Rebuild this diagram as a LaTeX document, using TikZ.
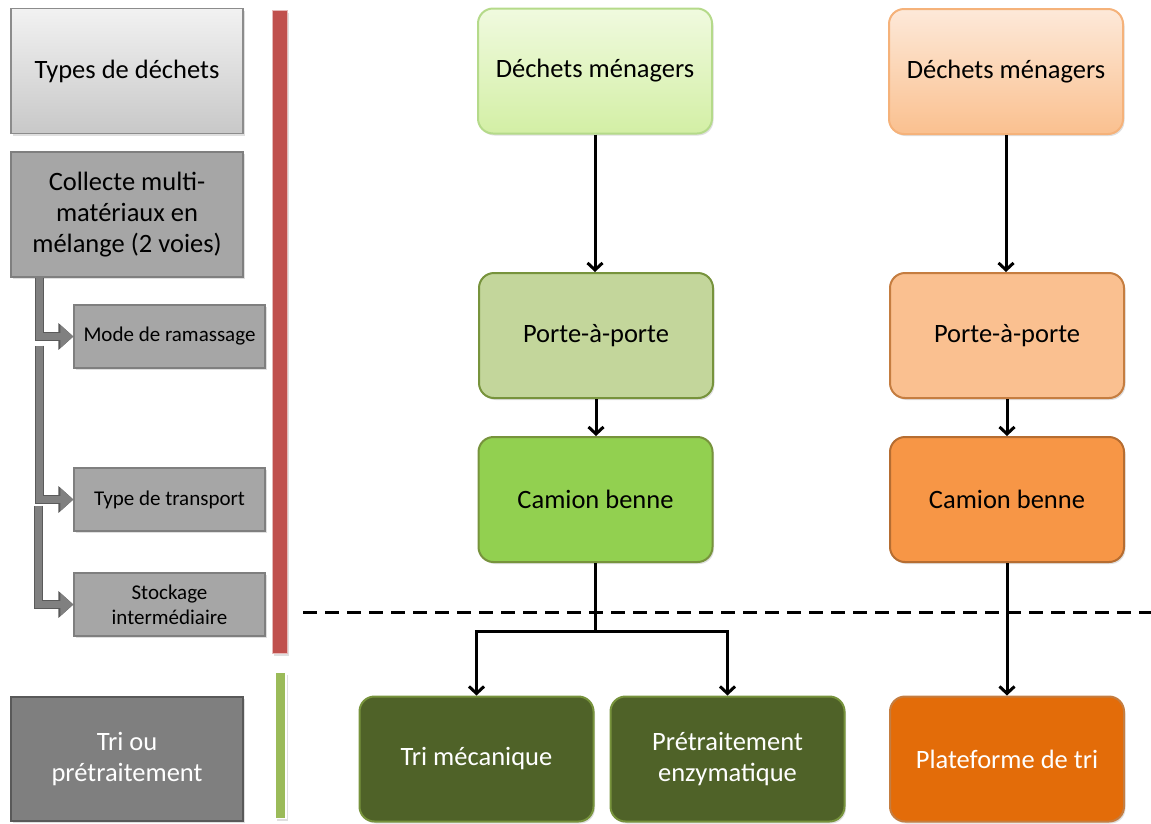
\documentclass[tikz,border=0pt]{standalone}
\usepackage{fontspec}
\setmainfont{Carlito}
\usetikzlibrary{arrows.meta,shadows}
\definecolor{lgtop}{HTML}{F2F2F2}
\definecolor{lgbot}{HTML}{C8C8C8}
\definecolor{lgdraw}{HTML}{8C8C8C}
\definecolor{mgray}{HTML}{A6A6A6}
\definecolor{mgdraw}{HTML}{7F7F7F}
\definecolor{dgray}{HTML}{7F7F7F}
\definecolor{dgdraw}{HTML}{595959}
\definecolor{gtop}{HTML}{F0FADF}
\definecolor{gbot}{HTML}{D3EFA5}
\definecolor{gdraw1}{HTML}{B5DA8A}
\definecolor{gporte}{HTML}{C3D69B}
\definecolor{gdraw}{HTML}{77933C}
\definecolor{gcamion}{HTML}{92D050}
\definecolor{gdark}{HTML}{4F6228}
\definecolor{otop}{HTML}{FDE9D9}
\definecolor{obot}{HTML}{FAC08F}
\definecolor{odraw1}{HTML}{F5B27A}
\definecolor{oporte}{HTML}{FAC090}
\definecolor{odraw}{HTML}{C57D40}
\definecolor{ocamion}{HTML}{F79646}
\definecolor{odraw2}{HTML}{B66D31}
\definecolor{oplat}{HTML}{E36C09}
\definecolor{redbar}{HTML}{C0504D}
\definecolor{redline}{HTML}{E6B9B8}
\definecolor{greenbar}{HTML}{9BBB59}
\definecolor{garrow}{HTML}{808080}
\definecolor{garrowd}{HTML}{5A5A5A}
\tikzset{
  shad/.style={drop shadow={opacity=0.25,shadow xshift=1.5pt,shadow yshift=-2pt}},
  bigtxt/.style={font=\fontsize{26.5}{31}\selectfont, align=center},
  smalltxt/.style={font=\fontsize{21}{25}\selectfont, align=center},
  leftbox/.style={rectangle, minimum width=232pt, minimum height=125pt, inner sep=0pt, line width=1.2pt, shad, bigtxt},
  subbox/.style={rectangle, minimum width=191pt, minimum height=63pt, inner sep=0pt, line width=1.2pt, draw=mgdraw, fill=mgray, shad, smalltxt},
  flowbox/.style={rectangle, rounded corners=15pt, minimum width=234pt, minimum height=125pt, inner sep=0pt, line width=2pt, shad, bigtxt},
  arr/.style={draw=black, line width=3pt, -{Straight Barb[length=7pt,width=15pt,line width=3pt]}},
  plain/.style={draw=black, line width=3pt},
  garr/.style={draw=garrow, line width=6.5pt, -{Triangle[length=13pt,width=22pt]},
    preaction={draw=garrowd, line width=9pt, -{Triangle[length=15pt,width=26pt]}}}
}
\begin{document}
\begin{tikzpicture}[x=1pt,y=-1pt]
\useasboundingbox (0,0) rectangle (1151,823);
% left column
\node[leftbox, draw=lgdraw, top color=lgtop, bottom color=lgbot] (types) at (127,71) {Types de déchets};
\node[leftbox, draw=mgdraw, fill=mgray] (coll) at (127,214.5) {Collecte multi-\\matériaux en\\mélange (2 voies)};
\node[subbox] (mode) at (169.5,336.5) {Mode de ramassage};
\node[subbox] (trans) at (169.5,499.5) {Type de transport};
\node[subbox] (stock) at (169.5,604.5) {Stockage\\intermédiaire};
\node[leftbox, draw=dgdraw, fill=dgray, text=white, line width=2pt, minimum height=124pt] (tri) at (127,759) {Tri ou\\prétraitement};
% gray elbow connectors
\draw[garr] ([xshift=29pt]coll.south west) |- (mode.west);
\draw[garr] ([xshift=-34pt,yshift=-9pt]mode.west) |- (trans.west);
\draw[garr] ([xshift=-35pt,yshift=-6pt]trans.west) |- (stock.west);
% bars
\node[rectangle, fill=redbar, draw=redline, line width=1pt, minimum width=15pt, minimum height=643pt, inner sep=0pt, shad] (rbar) at (279.5,332) {};
\node[rectangle, fill=greenbar, draw=white, line width=1.5pt, minimum width=11pt, minimum height=146pt, inner sep=0pt, shad] (gbar) at (280.5,745.5) {};
% green column
\node[flowbox, draw=gdraw1, top color=gtop, bottom color=gbot] (g1) at (595,71) {Déchets ménagers};
\node[flowbox, draw=gdraw, fill=gporte] (g2) at (596,335.5) {Porte-à-porte};
\node[flowbox, draw=gdraw, fill=gcamion] (g3) at (595.5,499.5) {Camion benne};
\node[flowbox, draw=gdraw, fill=gdark, text=white] (g4) at (476.5,759) {Tri mécanique};
\node[flowbox, draw=gdraw, fill=gdark, text=white] (g5) at (727.5,759) {Prétraitement\\enzymatique};
% orange column
\node[flowbox, draw=odraw1, top color=otop, bottom color=obot] (o1) at (1006,71.5) {Déchets ménagers};
\node[flowbox, draw=odraw, fill=oporte] (o2) at (1007,335.5) {Porte-à-porte};
\node[flowbox, draw=odraw2, fill=ocamion] (o3) at (1007,499.5) {Camion benne};
\node[flowbox, draw=odraw, fill=oplat, text=white] (o4) at (1007,759) {Plateforme de tri};
% dashed separator
\coordinate (dl) at (303,612);
\coordinate (dr) at (1151,612);
\draw[black, line width=3pt, dash pattern=on 14pt off 8pt] (dl) -- (dr);
% arrows green
\draw[arr] (g1.south) -- (g1.south |- g2.north);
\draw[arr] (g2.south) -- (g2.south |- g3.north);
\coordinate (split) at (595.5,631);
\draw[plain] (g3.south) -- (split);
\draw[arr] (split) -| (g4.north);
\draw[arr] (split) -| (g5.north);
% arrows orange
\draw[arr] (o1.south) -- (o1.south |- o2.north);
\draw[arr] (o2.south) -- (o2.south |- o3.north);
\draw[arr] (o3.south) -- (o3.south |- o4.north);
\end{tikzpicture}
\end{document}
